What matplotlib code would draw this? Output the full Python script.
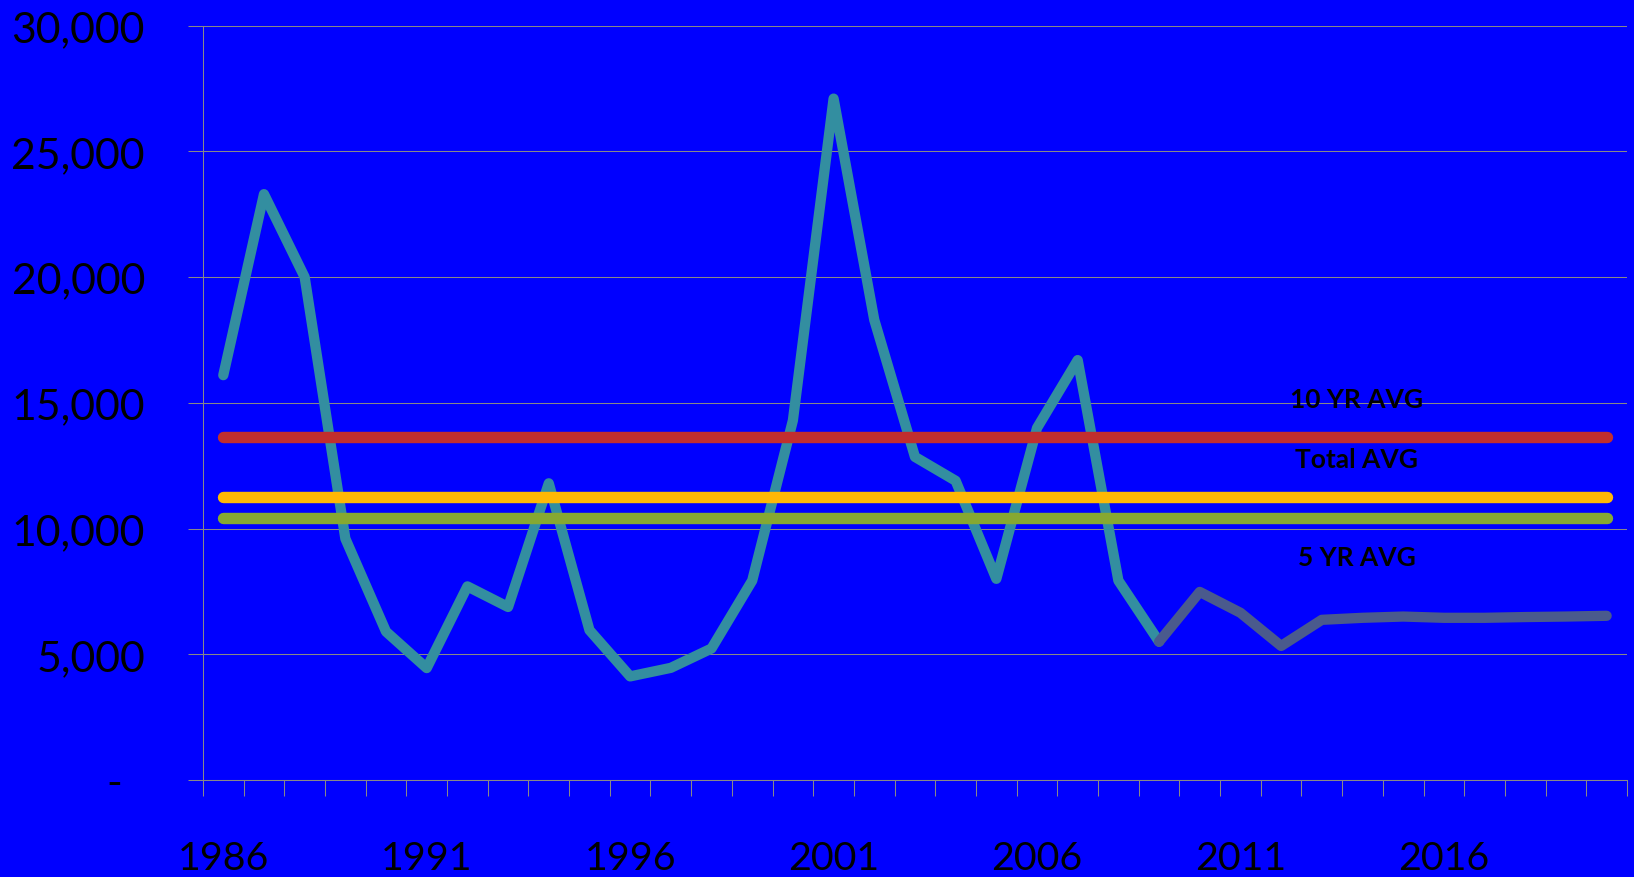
import matplotlib
matplotlib.use('Agg')
import matplotlib.pyplot as plt
from matplotlib.ticker import FixedLocator, FuncFormatter

years = list(range(1986, 2021))
actual = [16100, 23300, 20000, 9600, 5900, 4450, 7700, 6880, 11800, 5960,
          4120, 4460, 5230, 7930, 14300, 27100, 18300, 12850, 11900, 8000,
          14000, 16700, 7930, 5500]          # 1986 - 2009
forecast = [5500, 7480, 6650, 5330, 6370, 6450, 6500, 6450, 6450, 6480,
            6500, 6530]                       # 2009 - 2020
ten_yr_avg = 13650
total_avg = 11250
five_yr_avg = 10400
avg_labels = ['10 YR AVG', 'Total AVG', '5 YR AVG']
avg_label_y = [15170, 12780, 8880]

plt.rcParams['font.family'] = ['Lato', 'DejaVu Sans']

grid_c = '#888888'
fig = plt.figure(figsize=(16.34, 8.78), dpi=100, facecolor='#0000FF')
ax = fig.add_axes([0.1242, 0.1105, 0.8715, 0.8591], facecolor='#0000FF')

n = len(years)
x_all = list(range(n))
x_act = list(range(len(actual)))
x_fc = list(range(len(actual) - 1, len(actual) - 1 + len(forecast)))

ax.plot(x_act, actual, color='#338EA0', lw=7.4, solid_capstyle='round',
        solid_joinstyle='round', zorder=3)
ax.plot(x_fc, forecast, color='#4A5A8D', lw=7.4, solid_capstyle='round',
        solid_joinstyle='round', zorder=3)

for val, col in [(ten_yr_avg, '#C12E2E'), (total_avg, '#FFB805'), (five_yr_avg, '#86A832')]:
    ax.plot(x_all, [val] * n, color=col, lw=8.2, solid_capstyle='round', zorder=4)

for lab, yv in zip(avg_labels, avg_label_y):
    ax.text(27.85, yv, lab, ha='center', va='center', fontsize=19,
            fontweight='bold', color='black', zorder=5)

ax.set_xlim(-0.5, n - 0.5)
ax.set_ylim(0, 30000)

ax.yaxis.set_major_locator(FixedLocator(range(0, 30001, 5000)))
ax.yaxis.set_major_formatter(FuncFormatter(lambda v, p: '-  ' if v == 0 else f'{int(v):,}'))
ax.tick_params(axis='y', length=10.8, width=0.75, color=grid_c, pad=31,
               labelsize=30.8, labelcolor='black')
ax.grid(axis='y', color=grid_c, lw=0.75, zorder=1)

ax.set_xticks(x_all[::5])
ax.set_xticklabels([str(y) for y in years[::5]])
ax.set_xticks([i - 0.5 for i in range(n + 1)], minor=True)
ax.tick_params(axis='x', which='major', length=0, pad=43, labelsize=28.4,
               labelcolor='black')
ax.tick_params(axis='x', which='minor', length=11.5, width=0.75, color=grid_c)

for s in ['top', 'right']:
    ax.spines[s].set_visible(False)
for s in ['left', 'bottom']:
    ax.spines[s].set_color(grid_c)
    ax.spines[s].set_linewidth(0.75)

fig.savefig('out.png', dpi=100, facecolor=fig.get_facecolor())
